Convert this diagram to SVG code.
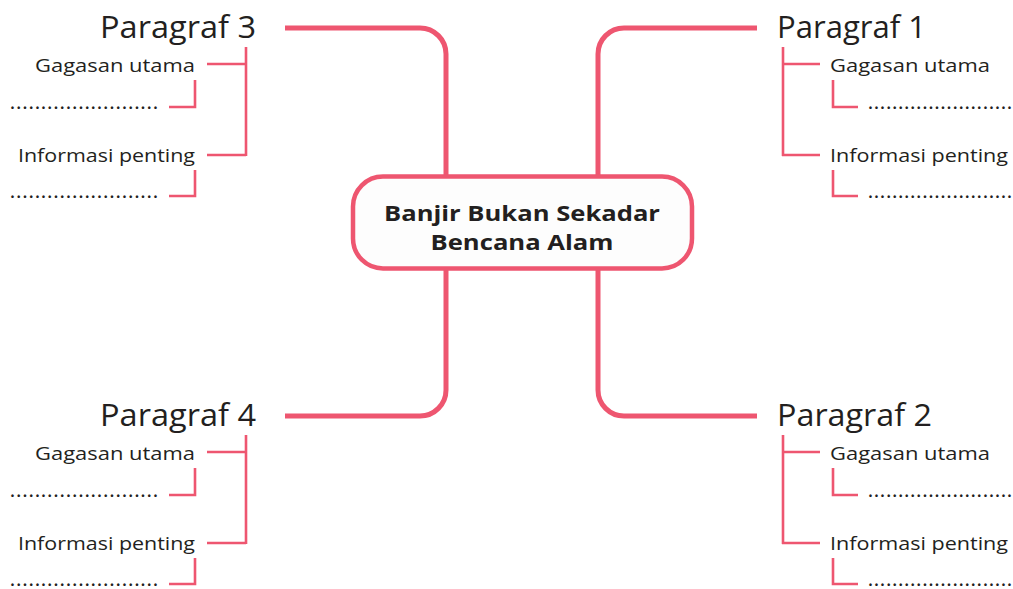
<svg xmlns="http://www.w3.org/2000/svg" width="1013" height="589" viewBox="0 0 1013 589">
<style>
.main{fill:none;stroke:#ee5670;stroke-width:5;stroke-linecap:butt}
.sub{fill:none;stroke:#ee5670;stroke-width:2.6}
.h{font-family:"Open Sans","Liberation Sans",sans-serif;font-size:31px;fill:#231f20}
.t{font-family:"Open Sans","Liberation Sans",sans-serif;font-size:18.5px;fill:#231f20}
.d{font-family:"Open Sans","Liberation Sans",sans-serif;font-size:18px;fill:#231f20;font-weight:600}
.c{font-family:"Open Sans","Liberation Sans",sans-serif;font-size:22px;font-weight:bold;fill:#231f20;text-anchor:middle}
</style>
<rect width="1013" height="589" fill="#ffffff"/>
<g id="connectors">
<path class="main" d="M285,28 H420 A26,26 0 0 1 446,54 V176"/>
<path class="main" d="M446,270 V390 A26,26 0 0 1 420,416 H285"/>
<path class="main" d="M598,176 V54 A26,26 0 0 1 624,28 H757"/>
<path class="main" d="M598,270 V390 A26,26 0 0 0 624,416 H757"/>
</g>
<g id="center">
<rect x="353" y="176.5" width="339" height="92" rx="30" fill="#fdfdfd" stroke="#ee5670" stroke-width="4.5"/>
<text class="c" x="522" y="221" textLength="276" lengthAdjust="spacingAndGlyphs">Banjir Bukan Sekadar</text>
<text class="c" x="522" y="250" textLength="183" lengthAdjust="spacingAndGlyphs">Bencana Alam</text>
</g>
<g id="paragraf3">
<text class="h" x="100" y="38" textLength="156" lengthAdjust="spacingAndGlyphs">Paragraf 3</text>
<path class="sub" d="M246,47 V156 M207,64 H246 M207,155 H246 M195,80 V107 H169 M195,170 V196 H169"/>
<text class="t" x="195" y="72" text-anchor="end" textLength="160" lengthAdjust="spacingAndGlyphs">Gagasan utama</text>
<text class="t" x="195" y="162" text-anchor="end" textLength="177" lengthAdjust="spacingAndGlyphs">Informasi penting</text>
<text class="d" x="10" y="109" textLength="148" lengthAdjust="spacing">........................</text>
<text class="d" x="10" y="198" textLength="148" lengthAdjust="spacing">........................</text>
</g>
<g id="paragraf4">
<text class="h" x="100" y="426" textLength="156" lengthAdjust="spacingAndGlyphs">Paragraf 4</text>
<path class="sub" d="M246,435 V544 M207,452 H246 M207,543 H246 M195,468 V495 H169 M195,558 V584 H169"/>
<text class="t" x="195" y="460" text-anchor="end" textLength="160" lengthAdjust="spacingAndGlyphs">Gagasan utama</text>
<text class="t" x="195" y="550" text-anchor="end" textLength="177" lengthAdjust="spacingAndGlyphs">Informasi penting</text>
<text class="d" x="10" y="497" textLength="148" lengthAdjust="spacing">........................</text>
<text class="d" x="10" y="586" textLength="148" lengthAdjust="spacing">........................</text>
</g>
<g id="paragraf1">
<text class="h" x="777" y="38" textLength="149" lengthAdjust="spacingAndGlyphs">Paragraf 1</text>
<path class="sub" d="M783,47 V156 M782,64 H820 M782,155 H820 M833,80 V107 H858 M833,170 V196 H858"/>
<text class="t" x="830" y="72" textLength="160" lengthAdjust="spacingAndGlyphs">Gagasan utama</text>
<text class="t" x="830" y="162" textLength="178" lengthAdjust="spacingAndGlyphs">Informasi penting</text>
<text class="d" x="868" y="109" textLength="144" lengthAdjust="spacing">........................</text>
<text class="d" x="868" y="198" textLength="144" lengthAdjust="spacing">........................</text>
</g>
<g id="paragraf2">
<text class="h" x="777" y="426" textLength="155" lengthAdjust="spacingAndGlyphs">Paragraf 2</text>
<path class="sub" d="M783,435 V544 M782,452 H820 M782,543 H820 M833,468 V495 H858 M833,558 V584 H858"/>
<text class="t" x="830" y="460" textLength="160" lengthAdjust="spacingAndGlyphs">Gagasan utama</text>
<text class="t" x="830" y="550" textLength="178" lengthAdjust="spacingAndGlyphs">Informasi penting</text>
<text class="d" x="868" y="497" textLength="144" lengthAdjust="spacing">........................</text>
<text class="d" x="868" y="586" textLength="144" lengthAdjust="spacing">........................</text>
</g>
</svg>
